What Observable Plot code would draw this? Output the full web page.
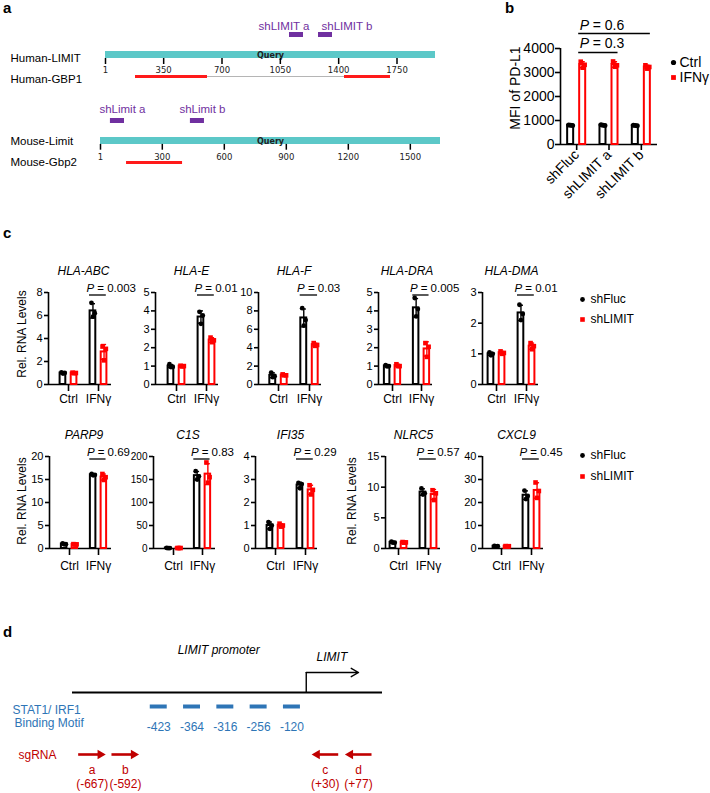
<!DOCTYPE html>
<html><head><meta charset="utf-8">
<script src="https://cdn.jsdelivr.net/npm/d3@7"></script>
<script src="https://cdn.jsdelivr.net/npm/@observablehq/plot@0.6"></script>
<style>
body{margin:0;background:#fff}
#fig{position:relative;width:710px;height:793px;overflow:hidden;background:#fff;font-family:"Liberation Sans",Arial,sans-serif}
.pane{position:absolute}
.pane svg{display:block;overflow:visible}
</style></head><body><div id="fig"></div>
<script>
// ================= DATA =================
// Panel a
const humanLimitLength = 1981;
const mouseLimitLength = 1646;
const humanTicks = [1, 350, 700, 1050, 1400, 1750];
const mouseTicks = [1, 300, 600, 900, 1200, 1500];
const humanRows = ["shRNA-human", "Human-LIMIT", "Human-GBP1"];
const mouseRows = ["shRNA-mouse", "Mouse-Limit", "Mouse-Gbp2"];
const humanShRNA = [{name: "shLIMIT a", start: 1105, end: 1189}, {name: "shLIMIT b", start: 1279, end: 1363}];
const mouseShRNA = [{name: "shLimit a", start: 49, end: 117}, {name: "shLimit b", start: 436, end: 504}];
const humanGbp1Hits = [{start: 181, end: 613}, {start: 1435, end: 1711}];
const humanGbp1Gaps = [{start: 613, end: 1435}];
const mouseGbp2Hits = [{start: 127, end: 398}];
const mouseGbp2Gaps = [];

// Panel b
const bGroups = ["shFluc", "shLIMIT a", "shLIMIT b"];
const bSeries = ["Ctrl", "IFNγ"];
const bCtrl = [[815, 790, 800], [820, 795, 805], [805, 780, 795]];
const bIFN = [[3450, 3320, 3200], [3460, 3300, 3240], [3300, 3230, 3160]];
const bYTicks = [0, 1000, 2000, 3000, 4000];
const bComparisons = [{from: 0, to: 1, p: "0.3"}, {from: 0, to: 2, p: "0.6"}];

// Panel c
const conditions = ["Ctrl", "IFNγ"];
const cSeries = ["shFluc", "shLIMIT"];
const cTopGenes = ["HLA-ABC", "HLA-E", "HLA-F", "HLA-DRA", "HLA-DMA"];
const cTopP = ["0.003", "0.01", "0.03", "0.005", "0.01"];
const cTopYMax = [8, 5, 10, 5, 3];
const cTopTicks = [[0, 2, 4, 6, 8], [0, 1, 2, 3, 4, 5], [0, 2, 4, 6, 8, 10], [0, 1, 2, 3, 4, 5], [0, 1, 2, 3]];
const cBottomGenes = ["PARP9", "C1S", "IFI35", "NLRC5", "CXCL9"];
const cBottomP = ["0.69", "0.83", "0.29", "0.57", "0.45"];
const cBottomYMax = [20, 200, 4, 15, 40];
const cBottomTicks = [[0, 5, 10, 15, 20], [0, 50, 100, 150, 200], [0, 1, 2, 3, 4], [0, 5, 10, 15], [0, 10, 20, 30, 40]];
// replicates: [Ctrl shFluc, Ctrl shLIMIT, IFNγ shFluc, IFNγ shLIMIT]
const HLA_ABC = [[1.05, 1.0, 0.95], [1.03, 1.0, 0.98], [7.1, 6.2, 5.9], [3.3, 3.1, 2.1]];
const HLA_E   = [[1.1, 0.95, 0.95], [1.02, 1.0, 0.98], [3.95, 3.75, 3.3], [2.55, 2.4, 2.3]];
const HLA_F   = [[1.3, 0.9, 0.8], [1.1, 1.0, 1.0], [8.3, 7.0, 6.4], [4.5, 4.3, 4.2]];
const HLA_DRA = [[1.05, 1.0, 0.98], [1.1, 1.0, 1.0], [4.7, 4.1, 3.7], [2.25, 2.05, 1.5]];
const HLA_DMA = [[1.05, 1.0, 0.95], [1.08, 1.03, 1.0], [2.6, 2.3, 2.1], [1.35, 1.25, 1.15]];
const PARP9   = [[1.1, 0.95, 0.9], [0.95, 0.9, 0.85], [16.2, 16.0, 15.9], [16.2, 15.5, 14.9]];
const C1S     = [[1.2, 1.0, 0.8], [1.0, 1.0, 1.0], [168, 157, 150], [187, 155, 143]];
const IFI35   = [[1.15, 1.0, 0.85], [1.08, 1.0, 0.95], [2.85, 2.8, 2.62], [2.75, 2.55, 2.35]];
const NLRC5   = [[1.1, 0.95, 0.95], [1.05, 1.0, 0.95], [9.8, 9.0, 8.8], [9.5, 9.0, 7.9]];
const CXCL9   = [[1.1, 1.0, 0.9], [1.05, 1.0, 0.95], [25.2, 22.8, 21.5], [28.7, 25.0, 22.0]];
const cTopData = [HLA_ABC, HLA_E, HLA_F, HLA_DRA, HLA_DMA];
const cBottomData = [PARP9, C1S, IFI35, NLRC5, CXCL9];

// Panel d
const motifSites = ["-423", "-364", "-316", "-256", "-120"];
const sgRNAs = [
  {name: "a", site: "(-667)", strand: "+"},
  {name: "b", site: "(-592)", strand: "+"},
  {name: "c", site: "(+30)", strand: "-"},
  {name: "d", site: "(+77)", strand: "-"}
];

// ================= LAYOUT / STYLE =================
const FONT = "Liberation Sans, Arial, Helvetica, sans-serif";
const PURPLE = "#7030A0", TEAL = "#5cc8c8", BLUE = "#2E75B6", DARKRED = "#C00000";
const baseStyle = {background: "transparent", overflow: "visible", fontFamily: FONT, fontSize: "12px", color: "black"};
const fig = document.getElementById("fig");
function place(el, left, top, w) {
  const div = document.createElement("div");
  div.className = "pane";
  div.style.left = left + "px"; div.style.top = top + "px";
  if (w) div.style.width = w + "px";
  div.appendChild(el);
  fig.appendChild(div);
}

// ---------- grouped bars helper ----------
function groupedMarks(rows, o) {
  const R = rows.map(d => ({...d, mean: d3.mean(d.reps), sd: d3.deviation(d.reps)}));
  const pts = R.flatMap(d => d.reps.map((v, k) => ({x: d.x + o.jitter[k], y: v, color: d.color, symbol: d.symbol})));
  return [
    Plot.rectY(R, {x1: d => d.x - o.hw, x2: d => d.x + o.hw, y1: 0, y2: "mean", fill: "white", stroke: "color", strokeWidth: o.sw}),
    Plot.ruleX(R, {x: "x", y1: d => d.mean - d.sd, y2: d => d.mean + d.sd, stroke: "color", strokeWidth: o.ew}),
    Plot.ruleY(R, {y: d => d.mean + d.sd, x1: d => d.x - o.cap, x2: d => d.x + o.cap, stroke: "color", strokeWidth: o.ew}),
    Plot.ruleY(R, {y: d => d.mean - d.sd, x1: d => d.x - o.cap, x2: d => d.x + o.cap, stroke: "color", strokeWidth: o.ew}),
    Plot.dot(pts.filter(p => p.symbol === "circle"), {x: "x", y: "y", fill: "color", r: o.rc, symbol: "circle"}),
    Plot.dot(pts.filter(p => p.symbol === "square"), {x: "x", y: "y", fill: "color", r: o.rs, symbol: "square"})
  ];
}

// ================= PANEL a =================
function alignPanel(o) {
  const [shRow, qRow, sRow] = o.rows;
  const query = [{start: 1, end: o.length}];
  return Plot.plot({
    width: 460, height: o.height, margin: 0,
    x: {domain: [1, o.length], range: o.xRange, axis: null},
    y: {type: "point", domain: o.rows, range: o.yRange, padding: 0, axis: null},
    style: baseStyle,
    marks: [
      Plot.ruleY(o.shRNAs, {x1: "start", x2: "end", y: () => shRow, stroke: PURPLE, strokeWidth: 5}),
      o.shLabels(shRow),
      Plot.ruleY(query, {x1: "start", x2: "end", y: () => qRow, dy: o.qDy, stroke: TEAL, strokeWidth: 7}),
      Plot.text(query, {x: d => (d.start + d.end) / 2, y: () => qRow, dy: o.qDy + 0.5, text: () => "Query",
        fontSize: 8, fontWeight: "bold", fontFamily: "DejaVu Sans", fill: "#222"}),
      Plot.ruleX(o.ticks, {x: d => d, y1: () => qRow, y2: () => sRow, insetTop: o.tickTop, insetBottom: o.tickBottom, strokeWidth: 1.5}),
      Plot.text(o.ticks, {x: d => d, y: () => qRow, text: d => String(d), dy: o.tickLabelDy, fontSize: 8.5, fontFamily: "DejaVu Sans", fill: "#222"}),
      Plot.ruleY(o.gaps, {x1: "start", x2: "end", y: () => sRow, stroke: "#b5b5b5", strokeWidth: 1}),
      Plot.ruleY(o.hits, {x1: "start", x2: "end", y: () => sRow, stroke: "#ff1a1a", strokeWidth: 3}),
      Plot.text(o.rows.slice(1), {y: d => d, text: d => d, frameAnchor: "left", textAnchor: "start", lineAnchor: "middle", dx: 10, dy: o.labelDy, fontSize: 11.5})
    ]
  });
}
place(alignPanel({
  rows: humanRows, length: humanLimitLength, ticks: humanTicks, shRNAs: humanShRNA,
  hits: humanGbp1Hits, gaps: humanGbp1Gaps, height: 90, xRange: [105, 435], yRange: [33.7, 77],
  qDy: -0.9, tickTop: 3, tickBottom: 12, tickLabelDy: 14.8, labelDy: 3,
  shLabels: row => [
    Plot.text([humanShRNA[0]], {x: "end", y: () => row, text: "name", textAnchor: "end", lineAnchor: "bottom", dx: 6, dy: -4.4, fill: PURPLE, fontSize: 11.5}),
    Plot.text([humanShRNA[1]], {x: "start", y: () => row, text: "name", textAnchor: "start", lineAnchor: "bottom", dx: 3, dy: -4.4, fill: PURPLE, fontSize: 11.5})
  ]
}), 0, 0, 460);
place(alignPanel({
  rows: mouseRows, length: mouseLimitLength, ticks: mouseTicks, shRNAs: mouseShRNA,
  hits: mouseGbp2Hits, gaps: mouseGbp2Gaps, height: 95, xRange: [100, 440], yRange: [31.5, 75.3],
  qDy: -0.9, tickTop: 2.9, tickBottom: 12.3, tickLabelDy: 15.3, labelDy: 0,
  shLabels: row => Plot.text(mouseShRNA, {x: d => (d.start + d.end) / 2, y: () => row, text: "name", lineAnchor: "bottom", dx: 5, dy: -7.8, fill: PURPLE, fontSize: 11.5})
}), 0, 88, 460);

// ================= PANEL b =================
{
  const off = 0.186, hw = 0.093;
  const rows = bGroups.flatMap((g, i) => [
    {x: i - off, reps: bCtrl[i], color: "black", symbol: "circle"},
    {x: i + off, reps: bIFN[i], color: "#ff0000", symbol: "square"}
  ]);
  const marks = [
    Plot.ruleY([0], {x1: -0.5, x2: 2.5, strokeWidth: 1.6}),
    Plot.ruleX([-0.5], {y1: 0, y2: 4000, strokeWidth: 1.6}),
    Plot.axisY({ticks: bYTicks, tickFormat: d => String(d), tickSize: 5, tickPadding: 1, strokeWidth: 1.6, label: null, fontSize: 14}),
    Plot.axisX({ticks: [0, 1, 2], tickFormat: i => bGroups[i], tickRotate: -45, tickSize: 6, tickPadding: 2, strokeWidth: 1.6, label: null, fontSize: 14}),
    ...groupedMarks(rows, {hw, sw: 2, ew: 1.5, cap: 0.08, rc: 2.5, rs: 2.6, jitter: [-0.06, 0.06, 0]}),
    Plot.text(["MFI of PD-L1"], {frameAnchor: "left", rotate: -90, textAnchor: "middle", lineAnchor: "middle", dx: -45, dy: -8.5, fontSize: 14}),
    Plot.dot([0], {frameAnchor: "top-right", dx: 16, dy: 14, r: 2.6, fill: "black"}),
    Plot.text([bSeries[0]], {frameAnchor: "top-right", textAnchor: "start", lineAnchor: "middle", dx: 22, dy: 14.5, fontSize: 14}),
    Plot.dot([0], {frameAnchor: "top-right", dx: 16, dy: 29, r: 2.7, symbol: "square", fill: "#ff0000"}),
    Plot.text([bSeries[1]], {frameAnchor: "top-right", textAnchor: "start", lineAnchor: "middle", dx: 22, dy: 29.5, fontSize: 14})
  ];
  bComparisons.forEach((c, k) => {
    const x1 = c.from + off - hw - 0.03, x2 = c.to + off + hw;
    marks.push(Plot.ruleY([4000], {x1, x2, dy: 4 - 19 * k, strokeWidth: 1.3}));
    marks.push(Plot.text(["P"], {x: () => x1, frameAnchor: "top", textAnchor: "start", lineAnchor: "bottom", dx: 1, dy: -1 - 18 * k, fontStyle: "italic", fontSize: 14}));
    marks.push(Plot.text([`= ${c.p}`], {x: () => x1, frameAnchor: "top", textAnchor: "start", lineAnchor: "bottom", dx: 14, dy: -1 - 18 * k, fontSize: 14}));
  });
  place(Plot.plot({
    width: 230, height: 210, marginLeft: 80, marginRight: 53, marginTop: 48, marginBottom: 66,
    x: {domain: [-0.5, 2.5]}, y: {domain: [0, 4000]}, color: {type: "identity"},
    style: {...baseStyle, fontSize: "14px"},
    marks
  }), 480, 0, 230);
}

// ================= PANEL c =================
const cTopLayout = [
  {ax: 48, t0: 68, t1: 98, end: 111, yLabelX: 22},
  {ax: 155, t0: 176, t1: 206, end: 218},
  {ax: 258, t0: 278, t1: 309, end: 321},
  {ax: 378, t0: 392, t1: 421, end: 432},
  {ax: 482, t0: 496, t1: 526, end: 538}
];
const cBottomLayout = [
  {ax: 49, t0: 69, t1: 98, end: 111, yLabelX: 22},
  {ax: 153, t0: 173, t1: 202, end: 215},
  {ax: 255, t0: 275, t1: 305, end: 317},
  {ax: 385, t0: 398, t1: 428, end: 440, yLabelX: 351.5},
  {ax: 482, t0: 501, t1: 531, end: 543}
];
const cRowLayout = [
  {frameTop: 292, zero: 384, xPad: 2.5, yLabelDy: -4.5, legendTop: 289},
  {frameTop: 456, zero: 548, xPad: 6, yLabelDy: -1.5, legendTop: 445}
];

function rnaChart(gene, reps, p, ymax, yticks, L, row) {
  const step = L.t1 - L.t0;
  const mL = 55, mR = 45, mT = 30, mB = 30;
  const x0 = (L.ax - L.t0) / step, x1 = 1 + (L.end - L.t1) / step;
  const off = 0.185, hw = 0.095;
  const tickFont = d3.max(yticks) >= 100 ? 10 : 11;
  const rows = reps.map((r, i) => ({
    x: (i >> 1) + ((i & 1) ? off : -off), reps: r,
    color: (i & 1) ? "#ff0000" : "black", symbol: (i & 1) ? "square" : "circle"
  }));
  const marks = [
    Plot.ruleY([0], {x1: x0, x2: x1, strokeWidth: 1.6}),
    Plot.ruleX([x0], {y1: 0, y2: ymax, strokeWidth: 1.6}),
    Plot.axisY({ticks: yticks, tickFormat: d => String(d), tickSize: 4, tickPadding: 2, strokeWidth: 1.6, label: null, fontSize: tickFont}),
    Plot.axisX({ticks: [0, 1], tickFormat: i => conditions[i], tickSize: 7, tickPadding: row.xPad, strokeWidth: 1.6, label: null, fontSize: 12}),
    ...groupedMarks(rows, {hw, sw: 2, ew: 1.4, cap: 0.085, rc: 2.4, rs: 2.6, jitter: [-0.05, 0.06, 0]}),
    Plot.text([gene], {x: () => 0.5, frameAnchor: "top", lineAnchor: "bottom", textAnchor: "middle", dy: -17.5, fontStyle: "italic", fontSize: 12}),
    Plot.ruleY([ymax], {x1: 1 - 0.3, x2: 1 + 0.26, dy: 2.5, strokeWidth: 1.3}),
    Plot.text(["P"], {x: () => 1 - 0.4, frameAnchor: "top", textAnchor: "start", lineAnchor: "bottom", dy: -1, fontStyle: "italic", fontSize: 11.5}),
    Plot.text([`= ${p}`], {x: () => 1 - 0.4, frameAnchor: "top", textAnchor: "start", lineAnchor: "bottom", dx: 10.8, dy: -1, fontSize: 11.5})
  ];
  if (L.yLabelX !== undefined) {
    marks.push(Plot.text(["Rel. RNA Levels"], {frameAnchor: "left", rotate: -90, textAnchor: "middle", lineAnchor: "middle",
      dx: L.yLabelX - L.ax, dy: row.yLabelDy, fontSize: 12}));
  }
  const width = L.end - L.ax + mL + mR;
  place(Plot.plot({
    width, height: row.zero - row.frameTop + mT + mB,
    marginLeft: mL, marginRight: mR, marginTop: mT, marginBottom: mB,
    x: {domain: [x0, x1]}, y: {domain: [0, ymax]}, color: {type: "identity"},
    style: baseStyle, marks
  }), L.ax - mL, row.frameTop - mT, width);
}
cTopGenes.forEach((g, i) => rnaChart(g, cTopData[i], cTopP[i], cTopYMax[i], cTopTicks[i], cTopLayout[i], cRowLayout[0]));
cBottomGenes.forEach((g, i) => rnaChart(g, cBottomData[i], cBottomP[i], cBottomYMax[i], cBottomTicks[i], cBottomLayout[i], cRowLayout[1]));

function cLegend(top, gap) {
  place(Plot.plot({
    width: 110, height: 40, margin: 0,
    y: {type: "point", domain: cSeries, range: [10, 10 + gap], padding: 0, axis: null},
    style: baseStyle,
    marks: [
      Plot.dot([cSeries[0]], {y: d => d, frameAnchor: "left", dx: 12, r: 2.4, fill: "black"}),
      Plot.dot([cSeries[1]], {y: d => d, frameAnchor: "left", dx: 12, r: 2.6, symbol: "square", fill: "#ff0000"}),
      Plot.text(cSeries, {y: d => d, text: d => d, frameAnchor: "left", textAnchor: "start", lineAnchor: "middle", dx: 20, fontSize: 12})
    ]
  }), 570, top, 110);
}
cLegend(cRowLayout[0].legendTop, 20);
cLegend(cRowLayout[1].legendTop, 21);

// ================= PANEL d =================
{
  const dOrder = ["a", "b", ...motifSites, "c", "d"];   // schematic order along the promoter
  const slot = name => dOrder.indexOf(name);
  const D = {promoter: 22, limit: 29, tss: 44, line: 64, motif: 78, stat1: 82, binding: 95, motifLabel: 99,
             sg: 126, sgLabel: 127, sgName: 142, sgSite: 156};
  const lineStart = -0.59, lineEnd = 8.72, tssSlot = 6.43, half = 0.405;
  const dir = d => d.strand === "+" ? 1 : -1;
  place(Plot.plot({
    width: 420, height: 165, margin: 0,
    x: {domain: [lineStart, lineEnd], range: [72, 382], axis: null},
    y: {domain: [0, 165], range: [0, 165], axis: null},
    style: baseStyle,
    marks: [
      Plot.text(["LIMIT promoter"], {x: () => 3.8, y: () => D.promoter, fontStyle: "italic", fontSize: 12}),
      Plot.ruleY([D.line], {x1: lineStart, x2: lineEnd, strokeWidth: 2}),
      Plot.ruleX([tssSlot], {y1: D.line, y2: D.tss, strokeWidth: 1.4}),
      Plot.arrow([0], {x1: tssSlot, y1: D.tss, x2: slot("d"), y2: D.tss, headLength: 9, strokeWidth: 1.4}),
      Plot.text(["LIMIT"], {x: () => 7.2, y: () => D.limit, fontStyle: "italic", fontSize: 12}),
      Plot.ruleY(motifSites, {x1: d => slot(d) - 0.255, x2: d => slot(d) + 0.255, y: () => D.motif, stroke: BLUE, strokeWidth: 4}),
      Plot.text(motifSites, {x: slot, y: () => D.motifLabel, text: d => d, fill: BLUE, fontSize: 12}),
      Plot.text(["STAT1/ IRF1"], {frameAnchor: "left", y: () => D.stat1, dx: 12, textAnchor: "start", lineAnchor: "middle", fill: BLUE, fontSize: 12}),
      Plot.text(["Binding Motif"], {frameAnchor: "left", y: () => D.binding, dx: 14, textAnchor: "start", lineAnchor: "middle", fill: BLUE, fontSize: 12}),
      Plot.text(["sgRNA"], {frameAnchor: "left", y: () => D.sgLabel, dx: 18, textAnchor: "start", lineAnchor: "middle", fill: DARKRED, fontSize: 12}),
      Plot.ruleY(sgRNAs, {x1: d => slot(d.name) - dir(d) * half, x2: d => slot(d.name) + dir(d) * (half - 0.2), y: () => D.sg, stroke: DARKRED, strokeWidth: 2.6}),
      Plot.dot(sgRNAs, {x: d => slot(d.name) + dir(d) * (half - 0.16), y: () => D.sg, symbol: "triangle", rotate: d => dir(d) * 90, r: 3.5, fill: DARKRED}),
      Plot.text(sgRNAs, {x: d => slot(d.name), y: () => D.sgName, text: "name", fill: DARKRED, fontSize: 12}),
      Plot.text(sgRNAs, {x: d => slot(d.name), y: () => D.sgSite, text: "site", fill: DARKRED, fontSize: 12})
    ]
  }), 0, 628, 420);
}

// ================= panel letters =================
const letters = d3.create("svg").attr("width", 710).attr("height", 793)
  .style("position", "absolute").style("left", "0px").style("top", "0px").style("pointer-events", "none");
letters.selectAll("text").data([["a", 3, 13], ["b", 505, 13], ["c", 3, 238], ["d", 3, 637]]).join("text")
  .attr("x", d => d[1]).attr("y", d => d[2]).text(d => d[0])
  .attr("font-family", FONT).attr("font-weight", "bold").attr("font-size", 15);
fig.appendChild(letters.node());
</script>
</body></html>
